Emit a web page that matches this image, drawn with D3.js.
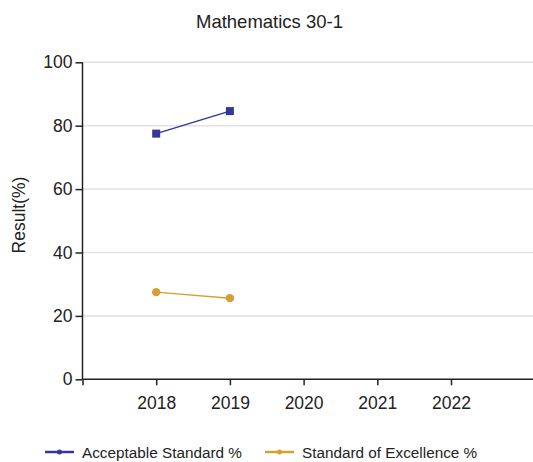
<!DOCTYPE html>
<html><head><meta charset="utf-8">
<script src="https://cdn.jsdelivr.net/npm/d3@7"></script>
<style>body{margin:0;background:#fff;}svg{display:block;font-family:"Liberation Sans",Arial,sans-serif;}</style>
</head><body><div id="c"></div>
<script>
const title = "Mathematics 30-1";
const years = [2018, 2019, 2020, 2021, 2022];
const seriesNames = ["Acceptable Standard %", "Standard of Excellence %"];
const seriesColors = ["#35359c", "#d4a031"];
const acceptable = [77.5, 84.6];
const excellence = [27.5, 25.6];
const yTicks = [0, 20, 40, 60, 80, 100];

(function () {
const W = 533, H = 462;
const FONT = "Liberation Sans, Arial, sans-serif";
const svg = d3.select("#c").append("svg").attr("width", W).attr("height", H);
const pLeft = 82.5, pRight = 533, pTop = 62.3, pBottom = 379.3;
const x = d3.scaleLinear().domain([2017, 2023]).range([pLeft, 524.7]);
const y = d3.scaleLinear().domain([0, 100]).range([pBottom, pTop]);

svg.append("text").attr("x", 269.5).attr("y", 27.5).attr("text-anchor", "middle")
  .attr("font-size", 18.5).attr("fill", "#222").text(title);

// gridlines
svg.append("g").selectAll("line").data(yTicks.filter(d => d > 0)).join("line")
  .attr("x1", pLeft).attr("x2", pRight).attr("y1", d => y(d)).attr("y2", d => y(d))
  .attr("stroke", "#e2e2e2").attr("stroke-width", 1.5);

// y axis
const ya = svg.append("g").attr("transform", `translate(${pLeft},0)`)
  .call(d3.axisLeft(y).tickValues(yTicks).tickSize(7).tickPadding(3));
ya.select(".domain").attr("stroke", "#222").attr("stroke-width", 1.5).attr("d", `M0,${pTop}V${pBottom}`);
ya.selectAll(".tick line").attr("stroke", "#222").attr("stroke-width", 1.5);
ya.selectAll(".tick text").attr("font-size", 17.5).attr("fill", "#222").attr("font-family", FONT);

// x axis
const xa = svg.append("g").attr("transform", `translate(0,${pBottom})`)
  .call(d3.axisBottom(x).tickValues([2017].concat(years)).tickFormat(d => d === 2017 ? "" : d).tickSize(6).tickPadding(11));
xa.select(".domain").attr("stroke", "#222").attr("stroke-width", 1.5).attr("d", `M${pLeft},0H${pRight}`);
xa.selectAll(".tick line").attr("stroke", "#222").attr("stroke-width", 1.5);
xa.selectAll(".tick text").attr("font-size", 17.5).attr("fill", "#222").attr("font-family", FONT);

svg.append("text").attr("transform", `translate(25,${215}) rotate(-90)`)
  .attr("text-anchor", "middle").attr("font-size", 17.5).attr("fill", "#222").text("Result(%)");

const line = d3.line().x((d, i) => x(years[i])).y(d => y(d));
// acceptable
svg.append("path").datum(acceptable).attr("d", line).attr("fill", "none")
  .attr("stroke", seriesColors[0]).attr("stroke-width", 1.5);
svg.append("g").selectAll("rect").data(acceptable).join("rect")
  .attr("x", (d, i) => x(years[i]) - 4).attr("y", d => y(d) - 4).attr("width", 8).attr("height", 8)
  .attr("fill", seriesColors[0]);
// excellence
svg.append("path").datum(excellence).attr("d", line).attr("fill", "none")
  .attr("stroke", seriesColors[1]).attr("stroke-width", 1.5);
svg.append("g").selectAll("circle").data(excellence).join("circle")
  .attr("cx", (d, i) => x(years[i])).attr("cy", d => y(d)).attr("r", 4.2)
  .attr("fill", seriesColors[1]);

// legend
const legX = [45, 265];
seriesNames.forEach((n, i) => {
  const g = svg.append("g").attr("transform", `translate(${legX[i]},452)`);
  g.append("line").attr("x1", 0).attr("x2", 29).attr("stroke", seriesColors[i]).attr("stroke-width", 2.5);
  g.append("circle").attr("cx", 14.5).attr("r", 2.5).attr("fill", seriesColors[i]);
  g.append("text").attr("x", 37).attr("y", 5.5).attr("font-size", 15.3).attr("fill", "#222").text(n);
});
})();
</script></body></html>
